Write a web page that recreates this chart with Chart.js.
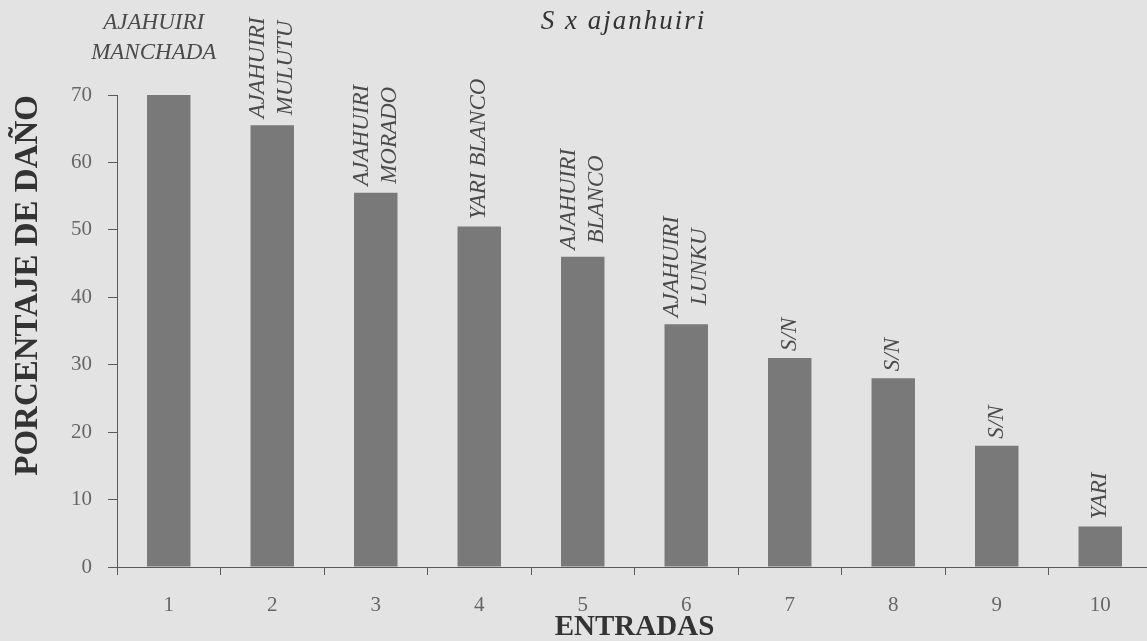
<!DOCTYPE html>
<html>
<head>
<meta charset="utf-8">
<script src="https://cdn.jsdelivr.net/npm/chart.js@4.4.0/dist/chart.umd.min.js"></script>
<style>
  html, body { margin: 0; padding: 0; background: #e3e3e3; overflow: hidden; }
  #wrap { width: 1152px; height: 641px; }
</style>
</head>
<body>
<div id="wrap"><canvas id="grafico" width="1152" height="641"></canvas></div>
<script>
// Datos
const entradas = ["1", "2", "3", "4", "5", "6", "7", "8", "9", "10"];
const porcentajeDanio = [70, 65.5, 55.5, 50.5, 46, 36, 31, 28, 18, 6];
const nombres = [
  ["AJAHUIRI", "MANCHADA"],
  ["AJAHUIRI", "MULUTU"],
  ["AJAHUIRI", "MORADO"],
  ["YARI BLANCO"],
  ["AJAHUIRI", "BLANCO"],
  ["AJAHUIRI", "LUNKU"],
  ["S/N"],
  ["S/N"],
  ["S/N"],
  ["YARI"]
];
const ticksY = [0, 10, 20, 30, 40, 50, 60, 70];
const titulo = "S x ajanhuiri";

const serif = "'Liberation Serif', 'DejaVu Serif', serif";

// Dibuja los nombres sobre cada barra y el titulo
const etiquetasBarras = {
  id: "etiquetasBarras",
  afterDatasetsDraw(chart) {
    const ctx = chart.ctx;
    const barras = chart.getDatasetMeta(0).data;
    ctx.save();
    ctx.fillStyle = "#4a4a4a";
    ctx.font = "italic 23px " + serif;
    ctx.textAlign = "center";
    ctx.textBaseline = "middle";
    barras.forEach((b, i) => {
      const lineas = nombres[i];
      if (i === 0) {
        // la primera va horizontal, arriba a la izquierda
        lineas.forEach((t, k) => ctx.fillText(t, b.x - 15, b.y - 72 + k * 30));
        return;
      }
      const largo = Math.max(...lineas.map(t => ctx.measureText(t).width));
      ctx.save();
      ctx.translate(b.x, b.y - 7 - largo / 2);
      ctx.rotate(-Math.PI / 2);
      const n = lineas.length;
      lineas.forEach((t, k) => ctx.fillText(t, 0, (k - (n - 1) / 2) * 28));
      ctx.restore();
    });
    // titulo
    ctx.font = "italic 27px " + serif;
    ctx.letterSpacing = "2px";
    ctx.fillStyle = "#333";
    const area = chart.chartArea;
    ctx.fillText(titulo, (area.left + area.right) / 2 - 11, 22);
    ctx.restore();
  }
};

new Chart(document.getElementById("grafico"), {
  type: "bar",
  data: {
    labels: entradas,
    datasets: [{
      data: porcentajeDanio,
      backgroundColor: "#797979",
      borderWidth: 0,
      barPercentage: 0.42,
      categoryPercentage: 1.0
    }]
  },
  options: {
    responsive: false,
    animation: false,
    layout: { padding: { top: 95, left: 0, right: 0, bottom: 0 } },
    plugins: {
      legend: { display: false },
      tooltip: { enabled: false }
    },
    scales: {
      x: {
        grid: { display: true, drawOnChartArea: false, tickLength: 8, color: "#5a5a5a" },
        border: { display: true, color: "#5a5a5a" },
        ticks: { color: "#666", font: { family: serif, size: 21 }, padding: 18 },
        title: {
          display: true, text: "ENTRADAS", color: "#333",
          font: { family: serif, size: 29, weight: "bold", lineHeight: 0.9 },
          padding: { top: 0, bottom: 0 }
        },
        afterFit: s => { s.height = 74; }
      },
      y: {
        min: 0, max: 70,
        afterBuildTicks: s => { s.ticks = ticksY.map(v => ({ value: v })); },
        grid: { drawOnChartArea: false, tickLength: 9, color: "#5a5a5a" },
        border: { display: true, color: "#5a5a5a" },
        ticks: { color: "#666", font: { family: serif, size: 21 }, padding: 16 },
        title: {
          display: true, text: "PORCENTAJE DE DAÑO", color: "#333", align: "end",
          font: { family: serif, size: 33, weight: "bold", lineHeight: 1 },
          padding: { top: 12, bottom: 0 }
        },
        afterFit: s => { s.width = 117; }
      }
    }
  },
  plugins: [etiquetasBarras]
});
</script>
</body>
</html>
